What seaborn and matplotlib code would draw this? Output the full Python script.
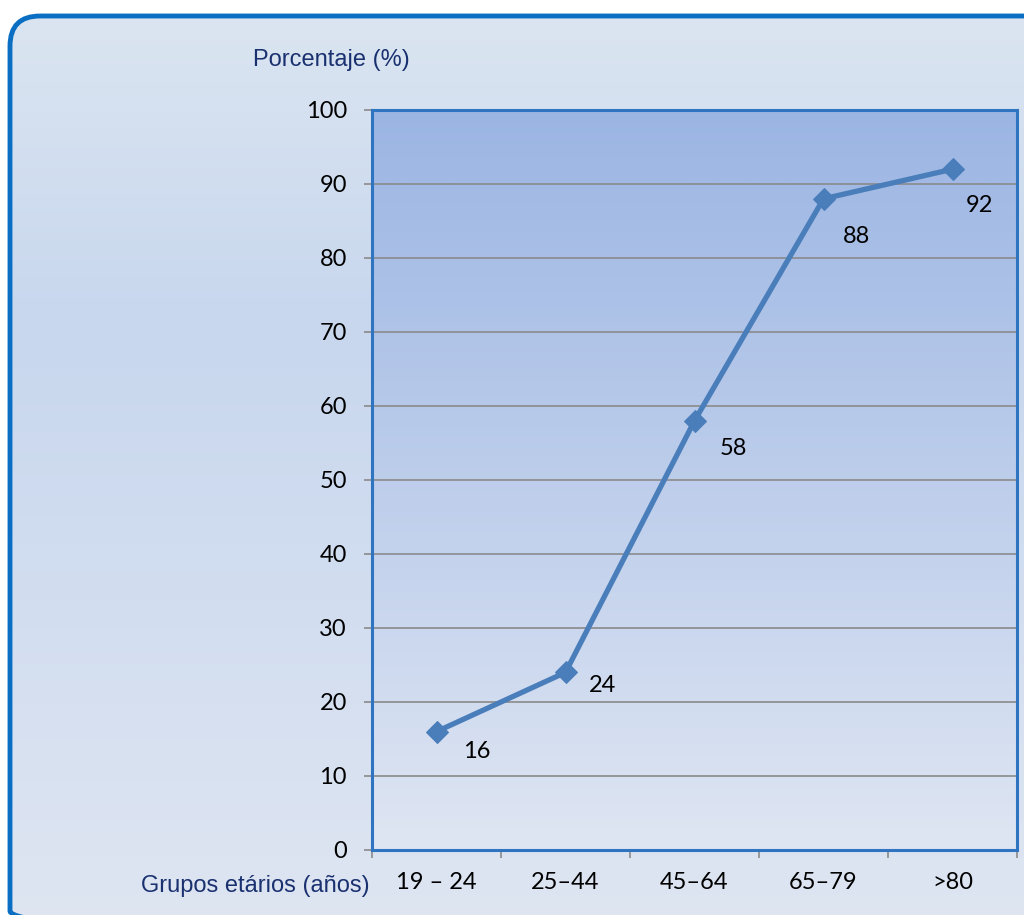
import numpy as np
import pandas as pd
import matplotlib
matplotlib.use("Agg")
import matplotlib.pyplot as plt
from matplotlib.patches import FancyBboxPatch
from matplotlib.colors import LinearSegmentedColormap
import seaborn as sns

# Data
grupos = ["19 – 24", "25–44", "45–64", "65–79", ">80"]
porcentaje = [16, 24, 58, 88, 92]
y_ticks = [0, 10, 20, 30, 40, 50, 60, 70, 80, 90, 100]

df = pd.DataFrame({"grupo": grupos, "pct": porcentaje})

sns.set_theme(style="white")
plt.rcParams["font.family"] = ["Liberation Sans", "DejaVu Sans"]
num_font = ["Lato", "DejaVu Sans"]

W, H = 1024, 915
fig = plt.figure(figsize=(W / 100, H / 100), dpi=100)
fig.patch.set_facecolor("white")

# Outer rounded panel with soft vertical gradient
bg = fig.add_axes([0, 0, 1, 1], zorder=0)
bg.set_xlim(0, W)
bg.set_ylim(H, 0)
bg.axis("off")
panel_cmap = LinearSegmentedColormap.from_list(
    "panel", ["#dbe5f1", "#c8d7ee", "#d3def0", "#dfe6f2"])
grad = np.linspace(0, 1, 256).reshape(-1, 1)
img = bg.imshow(grad, cmap=panel_cmap, aspect="auto",
                extent=[8, W + 20, H + 20, 14], zorder=1)
panel = FancyBboxPatch((10, 16), W + 20, H + 10,
                       boxstyle="round,pad=0,rounding_size=30",
                       facecolor="none", edgecolor="#0a6fc2", linewidth=3.5,
                       zorder=3)
bg.add_patch(panel)
img.set_clip_path(panel)

# Plot area
ax = fig.add_axes([372 / W, 1 - 850 / H, (1017 - 372) / W, (850 - 110) / H],
                  zorder=2)
ax.set_xlim(-0.5, len(grupos) - 0.5)
ax.set_ylim(0, 100)
plot_cmap = LinearSegmentedColormap.from_list("plot", ["#dfe6f3", "#9bb5e3"])
ax.imshow(np.linspace(0, 1, 256).reshape(-1, 1), cmap=plot_cmap,
          origin="lower", aspect="auto",
          extent=[-0.5, len(grupos) - 0.5, 0, 100], zorder=0)

for yv in y_ticks[1:-1]:
    ax.axhline(yv, color="#8a8a8a", linewidth=1.2, zorder=1)

sns.lineplot(data=df, x="grupo", y="pct", ax=ax, sort=False,
             color="#4a7ebb", linewidth=3.8, marker="D", markersize=11,
             markeredgecolor="#4a7ebb", zorder=3)

offsets = [(40, -20), (37, -13), (39, -28), (33, -38), (27, -36)]
for i, (v, off) in enumerate(zip(porcentaje, offsets)):
    ax.annotate(str(v), (i, v), xytext=(off[0] * 0.72, off[1] * 0.72),
                textcoords="offset points", ha="center", va="center",
                fontsize=17, color="black", family=num_font, zorder=4)

ax.set_yticks(y_ticks)
ax.set_yticklabels([str(t) for t in y_ticks], fontsize=17, color="black",
                   family=num_font)
ax.set_xticks(np.arange(len(grupos) + 1) - 0.5, minor=False)
ax.set_xticklabels([])
ax.set_xticks(np.arange(len(grupos)), minor=True)
ax.set_xticklabels(grupos, minor=True, fontsize=17, color="black",
                   family=num_font)
ax.tick_params(axis="x", which="minor", length=0, pad=16)
ax.tick_params(axis="x", which="major", length=6, width=1.2,
               color="#8a8a8a", direction="out", bottom=True)
ax.tick_params(axis="y", length=6, width=1.2, color="#8a8a8a",
               direction="out", left=True, pad=12)
ax.set_xlabel("")
ax.set_ylabel("")
for s in ax.spines.values():
    s.set_color("#2e74c0")
    s.set_linewidth(2.2)
    s.set_visible(True)

fig.text(331 / W, 1 - 60 / H, "Porcentaje (%)", ha="center", va="center",
         fontsize=17, color="#1a3170")
fig.text(255 / W, 1 - 886 / H, "Grupos etários (años)", ha="center",
         va="center", fontsize=17, color="#1a3170")

fig.savefig("out.png", dpi=100)
